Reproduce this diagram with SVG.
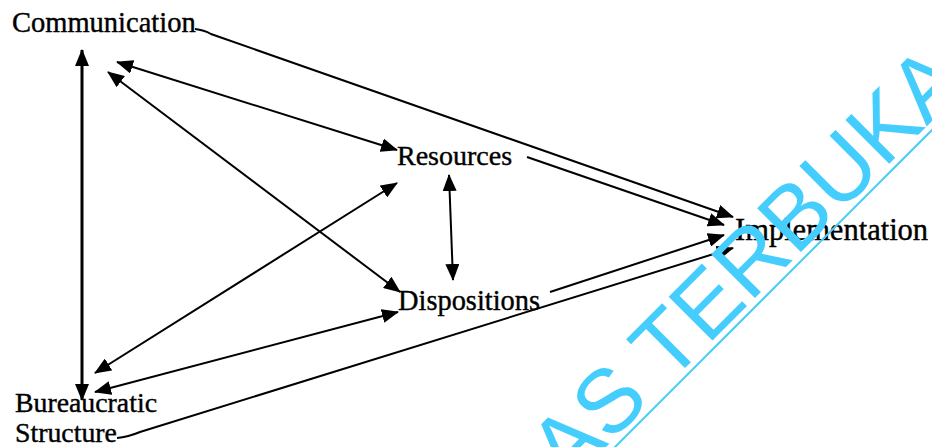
<svg xmlns="http://www.w3.org/2000/svg" width="932" height="447" viewBox="0 0 932 447">
<style>
.lbl{font-family:"Liberation Serif","Times New Roman",serif;fill:#000;stroke:#000;stroke-width:0.4}
.c{fill:none;stroke:#000;stroke-width:2}
.wm{font-family:"Liberation Sans",Arial,sans-serif;font-size:90px;fill:#45CDFD}
</style>
<defs>
<marker id="ah" viewBox="0 0 17 14" refX="16" refY="7" markerWidth="17" markerHeight="14" markerUnits="userSpaceOnUse" orient="auto-start-reverse">
<path d="M0,0 L17,7 L0,14 z" fill="#000"/>
</marker>
</defs>
<rect width="932" height="447" fill="#fff"/>
<g id="connectors">
<path class="c" d="M195 29 Q204 30 211 34 L733 217" marker-end="url(#ah)"/>
<path class="c" d="M527 157 L724 225" marker-end="url(#ah)"/>
<path class="c" d="M550 292 L724 235" marker-end="url(#ah)"/>
<path class="c" d="M117 438 Q128 437 140 432 L733 248" marker-end="url(#ah)"/>
<path class="c" style="stroke-width:3" d="M82 50 L82 400" marker-start="url(#ah)" marker-end="url(#ah)"/>
<path class="c" d="M117 62 L397 150" marker-start="url(#ah)" marker-end="url(#ah)"/>
<path class="c" d="M108 72 L400 292" marker-start="url(#ah)" marker-end="url(#ah)"/>
<path class="c" d="M95 373 L397 183" marker-start="url(#ah)" marker-end="url(#ah)"/>
<path class="c" d="M95 392 L398 312" marker-start="url(#ah)" marker-end="url(#ah)"/>
<path class="c" d="M449 175 L453 280" marker-start="url(#ah)" marker-end="url(#ah)"/>
</g>
<g id="communication"><text class="lbl" x="12" y="32" font-size="28.5">Communication</text></g>
<g id="resources"><text class="lbl" x="397" y="165" font-size="28">Resources</text></g>
<g id="dispositions"><text class="lbl" x="398" y="310" font-size="28.4">Dispositions</text></g>
<g id="implementation"><text class="lbl" x="735" y="240" font-size="30.5">Implementation</text></g>
<g id="bureaucratic-structure"><text class="lbl" x="15" y="412" font-size="27.8">Bureaucratic</text><text class="lbl" x="15" y="442" font-size="27.8">Structure</text></g>
<g id="watermark">
<text class="wm" transform="translate(567,486) rotate(-45)">AS TERBUKA</text>
<line x1="600" y1="462" x2="970" y2="92" stroke="#45CDFD" stroke-width="2"/>
</g>
</svg>
